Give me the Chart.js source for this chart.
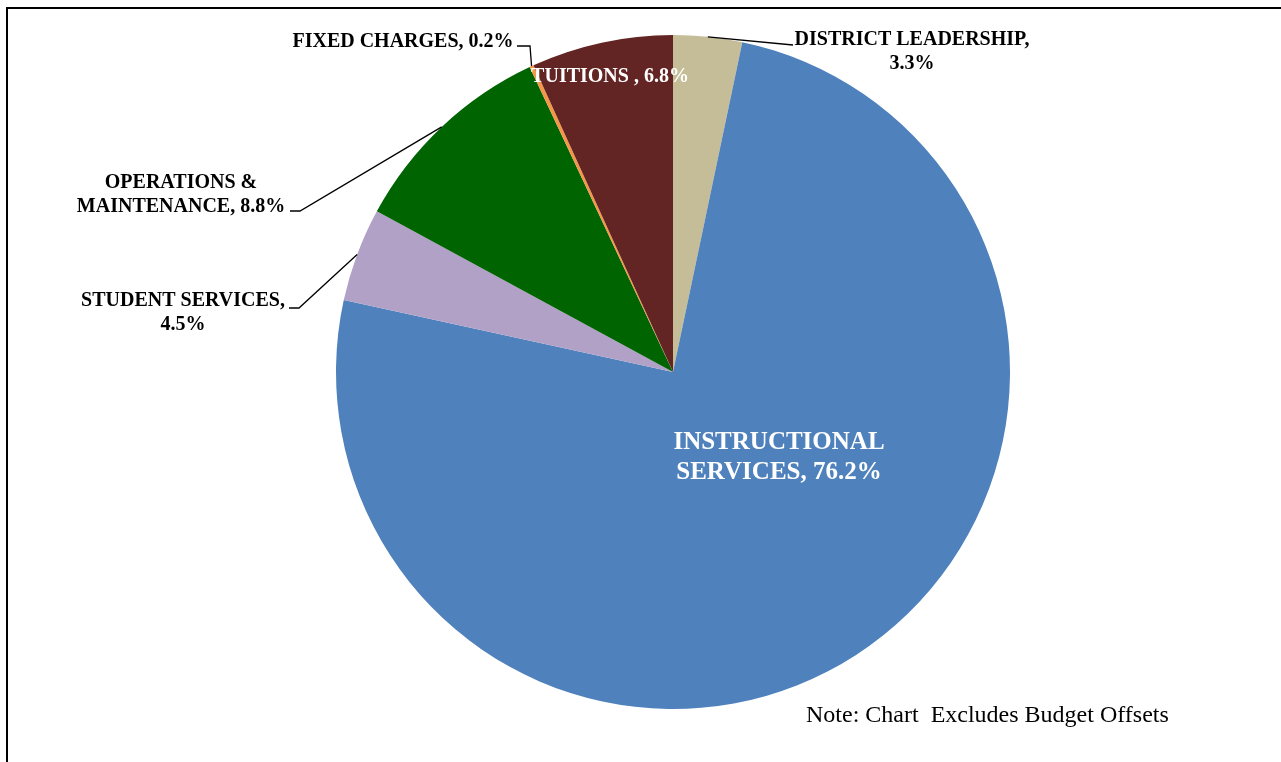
<!DOCTYPE html>
<html>
<head>
<meta charset="utf-8">
<script src="https://cdn.jsdelivr.net/npm/chart.js@4/dist/chart.umd.min.js"></script>
<style>
  html, body { margin: 0; padding: 0; background: #ffffff; overflow: hidden; }
  #wrap { position: relative; width: 1281px; height: 762px; }
  #frame {
    position: absolute; left: 6px; top: 7px; width: 1300px; height: 800px;
    border-left: 2px solid #000; border-top: 2px solid #000;
  }
  canvas { position: absolute; left: 0; top: 0; }
</style>
</head>
<body>
<div id="wrap">
  <div id="frame"></div>
  <canvas id="pie" width="1281" height="762"></canvas>
</div>
<script>
// slices, clockwise from 12 o'clock
const categories = ['DISTRICT LEADERSHIP', 'INSTRUCTIONAL SERVICES', 'STUDENT SERVICES',
                    'OPERATIONS & MAINTENANCE', 'FIXED CHARGES', 'TUITIONS '];
// slice sizes as drawn in the picture
const sliceSizes = [3.3, 75.2, 4.5, 10.1, 0.2, 6.8];
// percentages printed in the data labels
const printedPct = [3.3, 76.2, 4.5, 8.8, 0.2, 6.8];
const sliceColors = ['#C4BD97', '#4F81BD', '#B2A1C7', '#006400', '#F79646', '#632523'];

const note = 'Note: Chart  Excludes Budget Offsets';

// label placement (Excel style manual positions)
// x,y = centre of first text line; wrap = max line width; elbow/end = leader line path
const labelSpots = [
  { x: 912, y: 40, wrap: 240, size: 20, color: '#000', leader: true, elbow: [793, 45] },
  { x: 779, y: 443, wrap: 235, size: 25, color: '#fff' },
  { x: 183, y: 301, wrap: 215, size: 20, color: '#000', leader: true, elbow: [299, 308], end: [289, 308] },
  { x: 181, y: 183, wrap: 215, size: 20, color: '#000', leader: true, elbow: [300, 211], end: [290, 211] },
  { x: 403, y: 42, wrap: 400, size: 20, color: '#000', leader: true, elbow: [530, 46], end: [517, 46] },
  { x: 610, y: 77, wrap: 300, size: 20, color: '#fff' }
];

const FONT = '"Liberation Serif", "Times New Roman", serif';

function wrapText(ctx, text, maxW) {
  const words = text.split(' ');
  const lines = [];
  let cur = '';
  words.forEach(w => {
    const test = cur ? cur + ' ' + w : w;
    if (cur && ctx.measureText(test).width > maxW) {
      lines.push(cur);
      cur = w;
    } else {
      cur = test;
    }
  });
  if (cur) lines.push(cur);
  return lines;
}

const pieLabels = {
  id: 'pieLabels',
  afterDraw(chart) {
    const ctx = chart.ctx;
    const arcs = chart.getDatasetMeta(0).data;
    ctx.save();
    arcs.forEach((arc, i) => {
      const spot = labelSpots[i];
      const mid = (arc.startAngle + arc.endAngle) / 2;
      const ax = arc.x + Math.cos(mid) * arc.outerRadius;
      const ay = arc.y + Math.sin(mid) * arc.outerRadius;

      // leader line
      if (spot.leader) {
        ctx.strokeStyle = '#000';
        ctx.lineWidth = 1.3;
        ctx.beginPath();
        ctx.moveTo(ax, ay);
        ctx.lineTo(spot.elbow[0], spot.elbow[1]);
        if (spot.end) ctx.lineTo(spot.end[0], spot.end[1]);
        ctx.stroke();
      }

      // text
      ctx.font = 'bold ' + spot.size + 'px ' + FONT;
      ctx.fillStyle = spot.color;
      ctx.textAlign = 'center';
      ctx.textBaseline = 'middle';
      const text = categories[i] + ', ' + printedPct[i].toFixed(1) + '%';
      const lines = wrapText(ctx, text, spot.wrap);
      const lh = spot.size * 1.2;
      lines.forEach((ln, k) => ctx.fillText(ln, spot.x, spot.y + k * lh));
    });

    ctx.font = '24px ' + FONT;
    ctx.fillStyle = '#000';
    ctx.textAlign = 'left';
    ctx.textBaseline = 'middle';
    ctx.fillText(note, 806, 716);
    ctx.restore();
  }
};

new Chart(document.getElementById('pie'), {
  type: 'pie',
  data: {
    labels: categories,
    datasets: [{
      data: sliceSizes,
      backgroundColor: sliceColors,
      borderWidth: 0
    }]
  },
  options: {
    responsive: false,
    animation: false,
    devicePixelRatio: 1,
    layout: { padding: { top: 35, bottom: 53, left: 100, right: 35 } },
    plugins: {
      legend: { display: false },
      tooltip: { enabled: false }
    }
  },
  plugins: [pieLabels]
});
</script>
</body>
</html>
